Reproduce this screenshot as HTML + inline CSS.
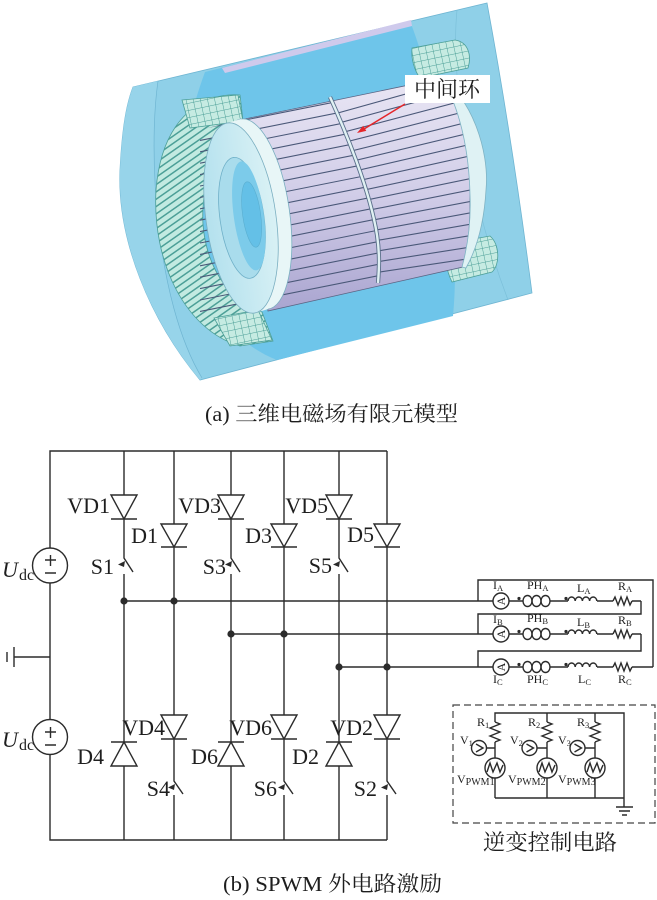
<!DOCTYPE html>
<html><head><meta charset="utf-8">
<style>
html,body{margin:0;padding:0;background:#fff;}
svg{display:block;}
text{font-family:"Liberation Serif","Noto Serif CJK SC",serif;fill:#1e1e1e;}
</style></head><body>
<svg width="657" height="900" viewBox="0 0 657 900" xmlns="http://www.w3.org/2000/svg">
<defs>
 <linearGradient id="rot" x1="0" y1="0" x2="0" y2="1">
  <stop offset="0" stop-color="#e9e6f4"/><stop offset="0.5" stop-color="#d1cde8"/><stop offset="1" stop-color="#aaa5d0"/>
 </linearGradient>
 <linearGradient id="face" x1="0" y1="0" x2="1" y2="0">
  <stop offset="0" stop-color="#b4e1ee"/><stop offset="1" stop-color="#d9f1f5"/>
 </linearGradient>
 <pattern id="coil" width="6" height="6" patternUnits="userSpaceOnUse" patternTransform="rotate(55)">
  <rect width="6" height="6" fill="#c2eae1"/>
  <rect width="1.5" height="6" fill="#4c9f97"/>
 </pattern>
 <pattern id="grid" width="7" height="7" patternUnits="userSpaceOnUse" patternTransform="rotate(-12)">
  <rect width="7" height="7" fill="#c6ebe2"/>
  <path d="M0,0 H7 M0,0 V7" stroke="#4c9f97" stroke-width="1"/>
 </pattern>
 <clipPath id="cl"><path d="M200,130 L330,97 C345,130 370,190 377,235 C380,255 379,270 378,283 L268,311 L200,316 Z"/></clipPath>
 <clipPath id="cr"><path d="M330,97 L443,78 C462,110 472,150 470,200 C470,230 468,250 463,267 L378,283 C379,270 380,255 377,235 C370,190 345,130 330,97 Z"/></clipPath>
</defs>

<!-- ===== 3D model ===== -->
<path d="M133,87 L487,3 C505,100 520,200 532,293 L200,380 C150,320 117,240 120,170 C122,130 126,105 133,87 Z" fill="#8fd0e8" stroke="#6fb5d2" stroke-width="0.8"/>
<path d="M133,87 L158,81 C148,150 155,300 202,378 L200,380 C150,320 117,240 120,170 C122,130 126,105 133,87 Z" fill="#97d4ea"/>
<path d="M158,81 C148,150 155,300 202,378" fill="none" stroke="#6fb5d2" stroke-width="0.7"/>
<path d="M205,72 L410,21 C440,100 462,220 453,316 L277,360 C200,330 150,220 205,72 Z" fill="#6ec5ea"/>
<polygon points="222,68 411,20 412,26 225,73" fill="#cfcaec"/>
<path d="M457,10 C450,80 470,200 508,300" fill="none" stroke="#7cc0da" stroke-width="0.7"/>

<!-- coils -->
<path d="M240,95 C205,92 162,115 156,190 C152,262 185,330 240,346 L273,341 L262,312 C222,300 200,252 203,208 C206,160 220,128 243,121 Z" fill="url(#coil)" stroke="#4c9f97" stroke-width="0.8"/>
<path d="M182,100 L238,95 L243,121 L190,128 Z" fill="url(#grid)" stroke="#4c9f97" stroke-width="0.8"/>
<path d="M214,318 L258,310 L272,340 L230,346 Z" fill="url(#grid)" stroke="#4c9f97" stroke-width="0.8"/>
<path d="M412,48 L455,40 C468,42 472,55 468,68 L420,78 C414,70 411,58 412,48 Z" fill="url(#grid)" stroke="#4c9f97" stroke-width="0.8"/>
<path d="M446,244 L490,236 C500,245 500,265 492,272 L452,282 C446,270 444,255 446,244 Z" fill="url(#grid)" stroke="#4c9f97" stroke-width="0.8"/>

<!-- rotor -->
<path d="M240,120 L443,78 C462,110 472,150 470,200 C470,230 468,250 463,267 L268,311 Z" fill="url(#rot)" stroke="#5a6484" stroke-width="0.8"/>
<g clip-path="url(#cl)" stroke="#4a5878" stroke-width="1.1">
 <line x1="200" y1="129" x2="390" y2="91"/>
 <line x1="200" y1="140.4" x2="390" y2="102.4"/>
 <line x1="200" y1="151.8" x2="390" y2="113.8"/>
 <line x1="200" y1="163.2" x2="390" y2="125.2"/>
 <line x1="200" y1="174.6" x2="390" y2="136.6"/>
 <line x1="200" y1="186" x2="390" y2="148"/>
 <line x1="200" y1="197.4" x2="390" y2="159.4"/>
 <line x1="200" y1="208.8" x2="390" y2="170.8"/>
 <line x1="200" y1="220.2" x2="390" y2="182.2"/>
 <line x1="200" y1="231.6" x2="390" y2="193.6"/>
 <line x1="200" y1="243" x2="390" y2="205"/>
 <line x1="200" y1="254.4" x2="390" y2="216.4"/>
 <line x1="200" y1="265.8" x2="390" y2="227.8"/>
 <line x1="200" y1="277.2" x2="390" y2="239.2"/>
 <line x1="200" y1="288.6" x2="390" y2="250.6"/>
 <line x1="200" y1="300" x2="390" y2="262"/>
 <line x1="200" y1="311.4" x2="390" y2="273.4"/>
</g>
<g clip-path="url(#cr)" stroke="#4a5878" stroke-width="1.1">
 <line x1="320" y1="118" x2="500" y2="67.6"/>
 <line x1="320" y1="128.2" x2="500" y2="79.2"/>
 <line x1="320" y1="138.4" x2="500" y2="90.9"/>
 <line x1="320" y1="148.6" x2="500" y2="102.6"/>
 <line x1="320" y1="158.8" x2="500" y2="114.2"/>
 <line x1="320" y1="168.9" x2="500" y2="125.8"/>
 <line x1="320" y1="179.1" x2="500" y2="137.5"/>
 <line x1="320" y1="189.3" x2="500" y2="149.2"/>
 <line x1="320" y1="199.5" x2="500" y2="160.8"/>
 <line x1="320" y1="209.7" x2="500" y2="172.4"/>
 <line x1="320" y1="219.9" x2="500" y2="184.1"/>
 <line x1="320" y1="230.1" x2="500" y2="195.8"/>
 <line x1="320" y1="240.3" x2="500" y2="207.4"/>
 <line x1="320" y1="250.4" x2="500" y2="219"/>
 <line x1="320" y1="260.6" x2="500" y2="230.7"/>
 <line x1="320" y1="270.8" x2="500" y2="242.4"/>
 <line x1="320" y1="281" x2="500" y2="254"/>
</g>
<path d="M330,97 C345,130 370,190 377,235 C380,255 379,270 378,283" fill="none" stroke="#5a6f8a" stroke-width="4.2"/>
<path d="M330,97 C345,130 370,190 377,235 C380,255 379,270 378,283" fill="none" stroke="#e0f1f3" stroke-width="2.4"/>

<!-- right end ring -->
<path d="M440,78 C470,95 490,150 486,190 C484,225 476,250 466,268 L462,267 C468,245 471,220 470,195 C469,150 460,110 443,80 Z" fill="#dff2f4" stroke="#7fb3c4" stroke-width="0.8"/>

<!-- left end ring -->
<g transform="rotate(-8 241 218)">
 <ellipse cx="255" cy="216" rx="35" ry="96" fill="#e8f6f7" stroke="#7aaec0" stroke-width="0.8"/>
 <polygon points="241,122 255,120 255,312 241,314" fill="#e8f6f7"/>
 <ellipse cx="241" cy="218" rx="35" ry="96" fill="url(#face)" stroke="#7aaec0" stroke-width="0.8"/>
 <ellipse cx="242" cy="218" rx="22" ry="61" fill="#a9dcec" stroke="#6fb0c8" stroke-width="0.8"/>
 <ellipse cx="249" cy="217" rx="15" ry="55" fill="#7ccbea"/>
 <ellipse cx="252" cy="216" rx="9" ry="33" fill="#64c0e7" stroke="#5aaed0" stroke-width="0.6"/>
</g>

<!-- label -->
<rect x="405" y="75" width="85" height="28" fill="#fff"/>
<text x="447" y="97" font-size="22" text-anchor="middle" font-family="Noto Serif CJK SC, serif">中间环</text>
<line x1="405" y1="104" x2="364" y2="129" stroke="#e5262a" stroke-width="1.5"/>
<polygon points="357,133 366.3,130.9 363.2,125.8" fill="#e5262a"/>

<text x="205" y="421" font-size="21" textLength="253" lengthAdjust="spacingAndGlyphs">(a) 三维电磁场有限元模型</text>

<!-- ===== Circuit ===== -->
<g stroke="#2b2b2b" stroke-width="1.4" fill="none">
 <path d="M50,548 V451 H387"/>
 <path d="M50,583 V719.5"/>
 <path d="M50,754.5 V840 H387"/>
 <circle cx="50" cy="565.5" r="17.5"/>
 <circle cx="50" cy="737" r="17.5"/>
 <path d="M45,560 H56 M50.5,555 V566 M45,573 H56"/>
 <path d="M45,732 H56 M50.5,727 V738 M45,745 H56"/>
 <path d="M14,657 H50 M14,647 V667 M7,652 V662"/>

 <path d="M124,451 V495 M111,519 H137 M124,519 V558 L133,572 M124,574 V742 M111,742 H137 M124,766 V840"/>
 <polygon points="111,495 137,495 124,519"/>
 <polygon points="124,742 111,766 137,766"/>
 <path d="M174,451 V524 M161,547 H187 M174,547 V715 M161,739 H187 M174,739 V781 L183,794 M174,795 V840"/>
 <polygon points="161,524 187,524 174,547"/>
 <polygon points="161,715 187,715 174,739"/>
 <path d="M231,451 V495 M218,519 H244 M231,519 V558 L240,572 M231,574 V742 M218,742 H244 M231,766 V840"/>
 <polygon points="218,495 244,495 231,519"/>
 <polygon points="231,742 218,766 244,766"/>
 <path d="M284,451 V524 M271,547 H297 M284,547 V715 M271,739 H297 M284,739 V781 L293,794 M284,795 V840"/>
 <polygon points="271,524 297,524 284,547"/>
 <polygon points="271,715 297,715 284,739"/>
 <path d="M339,451 V495 M326,519 H352 M339,519 V558 L348,572 M339,574 V742 M326,742 H352 M339,766 V840"/>
 <polygon points="326,495 352,495 339,519"/>
 <polygon points="339,742 326,766 352,766"/>
 <path d="M387,451 V524 M374,547 H400 M387,547 V715 M374,739 H400 M387,739 V781 L396,794 M387,795 V840"/>
 <polygon points="374,524 400,524 387,547"/>
 <polygon points="374,715 400,715 387,739"/>

 <path d="M124,601 H493 M231,634 H493 M339,667 H493"/>

 <path d="M478,601 V580 H653 V667"/>
 <path d="M478,634 V614 H641 V601"/>
 <path d="M478,667 V651 H641 V634"/>

 <circle cx="501" cy="601" r="8"/>
 <path d="M509,601 H523 M550,601 H568 M597,601 H613 M632,601 H641"/>
 <ellipse cx="527.5" cy="601" rx="4.5" ry="5.5"/><ellipse cx="536.5" cy="601" rx="4.5" ry="5.5"/><ellipse cx="545.5" cy="601" rx="4.5" ry="5.5"/>
 <path d="M568,601 a3.6,4 0 0 1 7.2,0 a3.6,4 0 0 1 7.2,0 a3.6,4 0 0 1 7.2,0 a3.6,4 0 0 1 7.2,0"/>
 <polyline points="613,601 615,597 618,605 621,597 624,605 627,597 630,605 632,601"/>
 <circle cx="501" cy="634" r="8"/>
 <path d="M509,634 H523 M550,634 H568 M597,634 H613 M632,634 H641"/>
 <ellipse cx="527.5" cy="634" rx="4.5" ry="5.5"/><ellipse cx="536.5" cy="634" rx="4.5" ry="5.5"/><ellipse cx="545.5" cy="634" rx="4.5" ry="5.5"/>
 <path d="M568,634 a3.6,4 0 0 1 7.2,0 a3.6,4 0 0 1 7.2,0 a3.6,4 0 0 1 7.2,0 a3.6,4 0 0 1 7.2,0"/>
 <polyline points="613,634 615,630 618,638 621,630 624,638 627,630 630,638 632,634"/>
 <circle cx="501" cy="667" r="8"/>
 <path d="M509,667 H523 M550,667 H568 M597,667 H613 M632,667 H653"/>
 <ellipse cx="527.5" cy="667" rx="4.5" ry="5.5"/><ellipse cx="536.5" cy="667" rx="4.5" ry="5.5"/><ellipse cx="545.5" cy="667" rx="4.5" ry="5.5"/>
 <path d="M568,667 a3.6,4 0 0 1 7.2,0 a3.6,4 0 0 1 7.2,0 a3.6,4 0 0 1 7.2,0 a3.6,4 0 0 1 7.2,0"/>
 <polyline points="613,667 615,663 618,671 621,663 624,671 627,663 630,671 632,667"/>

 <rect x="453" y="705" width="202" height="118" stroke-dasharray="7 4" stroke-width="1.2" stroke="#444"/>
 <path d="M495,722 V713 H624 V807 M495,798 H624 M616,807 H633 M619,811 H630 M622,815 H627"/>
 <polyline points="495,722 500,724 490,728 500,732 490,736 500,740 495,742"/>
 <path d="M495,742 V758 M495,778 V798 M486.5,748 H495"/>
 <circle cx="479" cy="748" r="7.5"/>
 <path d="M476,744 L483,748 L476,752"/>
 <circle cx="495" cy="768" r="10"/>
 <path d="M487,772 L490,763 L493,772 L497,763 L500,772 L503,765"/>
 <polyline points="547,722 552,724 542,728 552,732 542,736 552,740 547,742"/>
 <path d="M547,713 V722 M547,742 V758 M547,778 V798 M537,748 H547"/>
 <circle cx="529.5" cy="748" r="7.5"/>
 <path d="M526.5,744 L533.5,748 L526.5,752"/>
 <circle cx="547" cy="768" r="10"/>
 <path d="M539,772 L542,763 L545,772 L549,763 L552,772 L555,765"/>
 <polyline points="595,722 600,724 590,728 600,732 590,736 600,740 595,742"/>
 <path d="M595,713 V722 M595,742 V758 M595,778 V798 M585,748 H595"/>
 <circle cx="577.5" cy="748" r="7.5"/>
 <path d="M574.5,744 L581.5,748 L574.5,752"/>
 <circle cx="595" cy="768" r="10"/>
 <path d="M587,772 L590,763 L593,772 L597,763 L600,772 L603,765"/>
</g>

<g fill="#2b2b2b">
 <polygon points="118,564.5 125,561 124,567"/>
 <polygon points="225,564.5 232,561 231,567"/>
 <polygon points="333,564.5 340,561 339,567"/>
 <polygon points="168,787.5 175,784 174,790"/>
 <polygon points="278,787.5 285,784 284,790"/>
 <polygon points="381,787.5 388,784 387,790"/>
 <circle cx="124" cy="601" r="3.6"/><circle cx="174" cy="601" r="3.6"/>
 <circle cx="231" cy="634" r="3.6"/><circle cx="284" cy="634" r="3.6"/>
 <circle cx="339" cy="667" r="3.6"/><circle cx="387" cy="667" r="3.6"/>
 <circle cx="519" cy="598.5" r="1.6"/><circle cx="566" cy="598.5" r="1.6"/>
 <circle cx="519" cy="631.5" r="1.6"/><circle cx="566" cy="631.5" r="1.6"/>
 <circle cx="519" cy="664.5" r="1.6"/><circle cx="566" cy="664.5" r="1.6"/>
</g>

<g font-size="22" text-anchor="end">
 <text x="110" y="513">VD1</text>
 <text x="158" y="543">D1</text>
 <text x="114" y="574">S1</text>
 <text x="221" y="513">VD3</text>
 <text x="272" y="543">D3</text>
 <text x="226" y="574">S3</text>
 <text x="328" y="513">VD5</text>
 <text x="374" y="542">D5</text>
 <text x="332" y="573">S5</text>
 <text x="165" y="735">VD4</text>
 <text x="104" y="764">D4</text>
 <text x="170" y="796">S4</text>
 <text x="272" y="735">VD6</text>
 <text x="218" y="764">D6</text>
 <text x="277" y="796">S6</text>
 <text x="373" y="735">VD2</text>
 <text x="319" y="764">D2</text>
 <text x="377" y="796">S2</text>
</g>
<text x="2" y="577" font-size="22" font-style="italic">U</text><text x="19" y="580" font-size="16">dc</text>
<text x="2" y="747" font-size="22" font-style="italic">U</text><text x="19" y="750" font-size="16">dc</text>

<g font-size="12" text-anchor="middle">
 <text x="501" y="605" transform="rotate(-90 501 601)">A</text>
 <text x="501" y="638" transform="rotate(-90 501 634)">A</text>
 <text x="501" y="671" transform="rotate(-90 501 667)">A</text>
</g>

<g font-size="12">
 <text x="493" y="589">I<tspan font-size="8.5" dy="2">A</tspan></text>
 <text x="527" y="589">PH<tspan font-size="8.5" dy="2">A</tspan></text>
 <text x="577" y="592">L<tspan font-size="8.5" dy="2">A</tspan></text>
 <text x="618" y="590">R<tspan font-size="8.5" dy="2">A</tspan></text>
 <text x="493" y="623">I<tspan font-size="8.5" dy="2">B</tspan></text>
 <text x="527" y="622">PH<tspan font-size="8.5" dy="2">B</tspan></text>
 <text x="577" y="626">L<tspan font-size="8.5" dy="2">B</tspan></text>
 <text x="618" y="624">R<tspan font-size="8.5" dy="2">B</tspan></text>
 <text x="493" y="683">I<tspan font-size="8.5" dy="2">C</tspan></text>
 <text x="527" y="683">PH<tspan font-size="8.5" dy="2">C</tspan></text>
 <text x="578" y="683">L<tspan font-size="8.5" dy="2">C</tspan></text>
 <text x="618" y="683">R<tspan font-size="8.5" dy="2">C</tspan></text>
</g>

<g font-size="12">
 <text x="477" y="726">R<tspan font-size="8.5" dy="2">1</tspan></text>
 <text x="528" y="726">R<tspan font-size="8.5" dy="2">2</tspan></text>
 <text x="577" y="726">R<tspan font-size="8.5" dy="2">3</tspan></text>
 <text x="460" y="744">V<tspan font-size="8.5" dy="2">1</tspan></text>
 <text x="510" y="744">V<tspan font-size="8.5" dy="2">2</tspan></text>
 <text x="558" y="744">V<tspan font-size="8.5" dy="2">3</tspan></text>
 <text x="457" y="783">V<tspan font-size="10" dy="2">PWM1</tspan></text>
 <text x="508" y="783">V<tspan font-size="10" dy="2">PWM2</tspan></text>
 <text x="558" y="783">V<tspan font-size="10" dy="2">PWM3</tspan></text>
</g>
<text x="483" y="850" font-size="22" textLength="134" lengthAdjust="spacingAndGlyphs">逆变控制电路</text>

<text x="223" y="891" font-size="21" textLength="219" lengthAdjust="spacingAndGlyphs">(b) SPWM 外电路激励</text>
</svg>
</body></html>
